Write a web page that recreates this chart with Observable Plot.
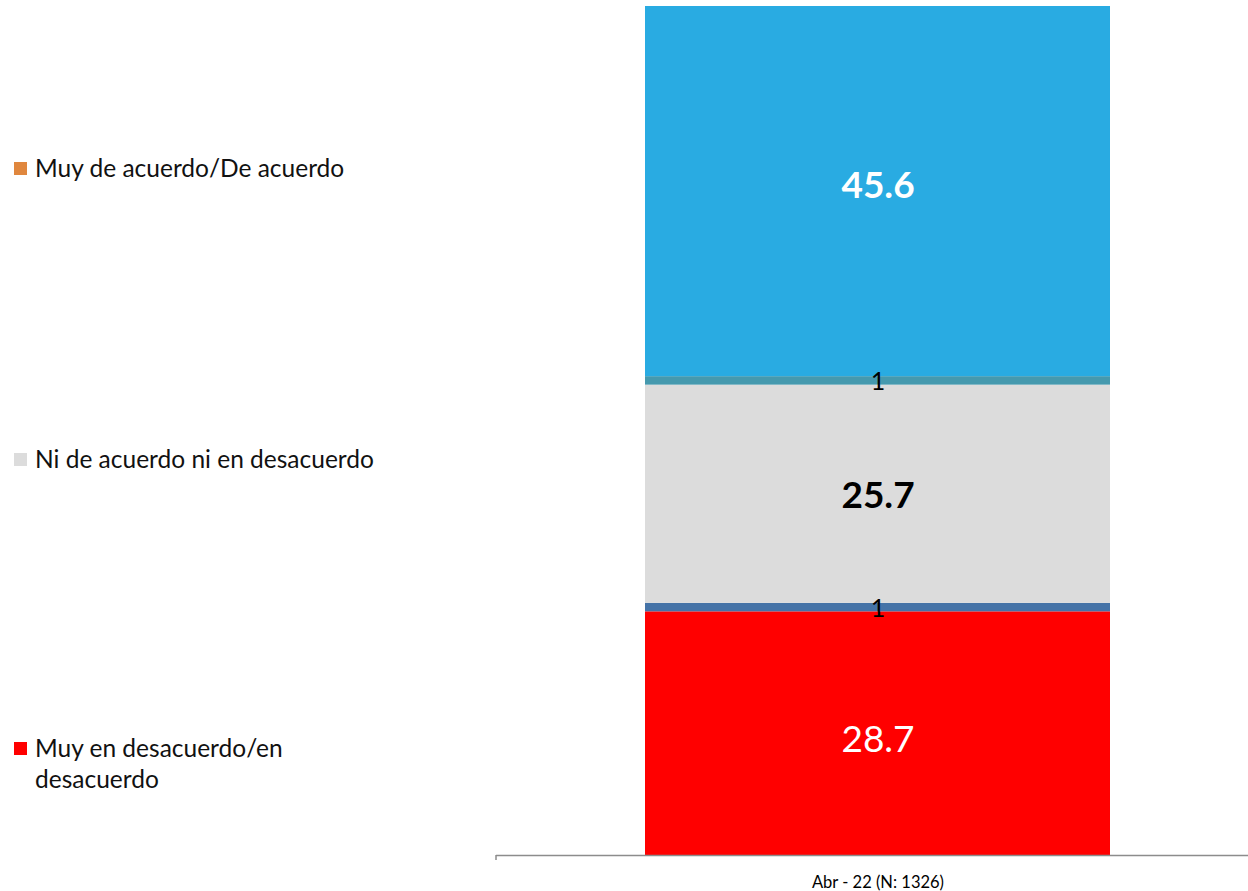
<!DOCTYPE html>
<html><head><meta charset="utf-8">
<script src="https://cdn.jsdelivr.net/npm/d3@7"></script>
<script src="https://cdn.jsdelivr.net/npm/@observablehq/plot@0.6"></script>
<style>
body{margin:0;background:#fff;}
#wrap{position:relative;width:1248px;height:891px;font-family:Lato,"Open Sans",sans-serif;overflow:hidden;}
#wrap svg{position:absolute;left:0;top:0;}
.leg{position:absolute;left:14px;font-size:24.5px;color:#111;line-height:31px;display:flex;}
.leg .txt{max-width:350px;}
.sw{width:13px;height:13px;margin-right:8px;margin-top:10px;flex:none;}
</style></head><body><div id="wrap"></div>
<script>
const period = "Abr - 22 (N: 1326)";
const segments = ["Muy en desacuerdo/en desacuerdo", "sep1", "Ni de acuerdo ni en desacuerdo", "sep2", "Muy de acuerdo/De acuerdo"];
const values = [28.7, 1, 25.7, 1, 45.6];
const segmentColors = ["#FF0000", "#4573A7", "#DCDCDC", "#4599AE", "#29ABE2"];
const legendItems = ["Muy de acuerdo/De acuerdo", "Ni de acuerdo ni en desacuerdo", "Muy en desacuerdo/en desacuerdo"];
const legendColors = ["#E0873E", "#DCDCDC", "#FF0000"];
const yMax = 100;

const data = segments.map((s, i) => ({period, segment: s, value: values[i]}));
const lbl = (seg) => (d) => d.segment === seg ? String(d.value) : null;
const lblSep = (d) => d.segment.startsWith("sep") ? String(d.value) : null;

const chart = Plot.plot({
  width: 1248,
  height: 891,
  marginLeft: 496,
  marginRight: 0,
  marginTop: 6,
  marginBottom: 36,
  style: {fontFamily: "Lato, 'Open Sans', sans-serif", background: "transparent"},
  x: {domain: [period], padding: 0.236, align: 0.52, label: null},
  y: {domain: [0, yMax], axis: null},
  color: {domain: segments, range: segmentColors},
  marks: [
    Plot.barY(data, Plot.stackY({x: "period", y: "value", fill: "segment", clip: true})),
    Plot.ruleY([0], {stroke: "#8C8C8C", strokeWidth: 1.5}),
    (index, scales, values, dim) => {
      const l = d3.create("svg:line")
        .attr("x1", dim.marginLeft).attr("x2", dim.marginLeft)
        .attr("y1", dim.height - dim.marginBottom).attr("y2", dim.height - dim.marginBottom + 5)
        .attr("stroke", "#8C8C8C").attr("stroke-width", 1.5);
      return l.node();
    },
    Plot.axisX({tickSize: 0, tickPadding: 21, fontSize: 16.5, label: null, fill: "#000"}),
    Plot.text(data, Plot.stackY({x: "period", y: "value", text: lbl("Muy de acuerdo/De acuerdo"), fill: "white", fontWeight: "bold", fontSize: 37, dy: 3})),
    Plot.text(data, Plot.stackY({x: "period", y: "value", text: lbl("Ni de acuerdo ni en desacuerdo"), fill: "black", fontWeight: "bold", fontSize: 37, dy: 2})),
    Plot.text(data, Plot.stackY({x: "period", y: "value", text: lbl("Muy en desacuerdo/en desacuerdo"), fill: "white", fontSize: 37, dy: 6})),
    Plot.text(data, Plot.stackY({x: "period", y: "value", text: lblSep, fill: "black", fontSize: 25, dy: 1}))
  ]
});

const wrap = document.getElementById("wrap");
wrap.appendChild(chart);
const tops = [152, 443, 732];
legendItems.forEach((name, i) => {
  const div = document.createElement("div");
  div.className = "leg";
  div.style.top = tops[i] + "px";
  const sw = document.createElement("span");
  sw.className = "sw";
  sw.style.background = legendColors[i];
  const t = document.createElement("span");
  t.className = "txt";
  t.textContent = name;
  div.appendChild(sw);
  div.appendChild(t);
  wrap.appendChild(div);
});
</script></body></html>
